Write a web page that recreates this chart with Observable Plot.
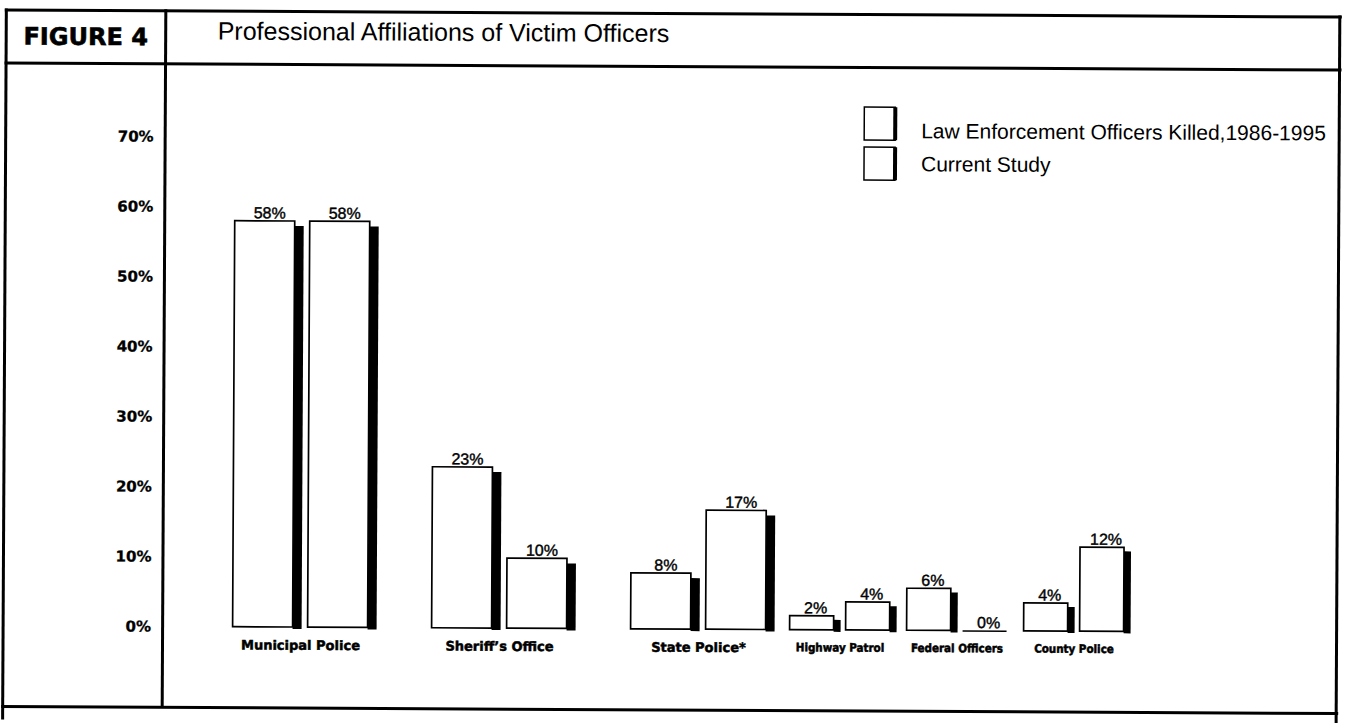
<!DOCTYPE html>
<html><head><meta charset="utf-8">
<script src="https://cdn.jsdelivr.net/npm/d3@7"></script>
<script src="https://cdn.jsdelivr.net/npm/@observablehq/plot@0.6"></script>
<style>
html,body{margin:0;padding:0;background:#fff;}
#page{position:relative;width:1345px;height:723px;overflow:hidden;background:#fff;}
#sheet{position:absolute;left:0;top:0;width:1345px;height:723px;transform:rotate(0.3deg);transform-origin:672px 361px;}
#left,#right{position:absolute;top:0;}
#left{left:0;} #right{left:780px;}
#left svg,#right svg{background:transparent;overflow:visible;max-width:none;}
svg [aria-label^="y-axis"] text{font-family:"DejaVu Sans",sans-serif;font-weight:bold;font-size:15px;fill:#000;stroke:#000;stroke-width:0.3px;}
svg [aria-label^="x-axis"] text{font-family:"DejaVu Sans",sans-serif;font-weight:bold;font-size:13px;fill:#000;stroke:#000;stroke-width:0.5px;}
#right svg [aria-label^="x-axis"] text{font-family:"DejaVu Sans Condensed","DejaVu Sans",sans-serif;font-stretch:condensed;font-size:11.5px;}
#deco{position:absolute;left:0;top:0;pointer-events:none;}
</style>
</head><body>
<div id="page"><div id="sheet">
  <div id="left"></div>
  <div id="right"></div>
  <svg id="deco" width="1345" height="723"></svg>
</div></div>
<script>
// ---- data ----
const categories = ["Municipal Police", "Sheriff’s Office", "State Police*", "Highway Patrol", "Federal Officers", "County Police"];
const seriesNames = ["Law Enforcement Officers Killed,1986-1995", "Current Study"];
const leokaValues = [58, 23, 8, 2, 6, 4];
const currentStudyValues = [58, 10, 17, 4, 0, 12];
const yTickValues = [0, 10, 20, 30, 40, 50, 60, 70];
const figureLabel = "FIGURE 4";
const titleText = "Professional Affiliations of Victim Officers";

const rows = categories.flatMap((c, i) => [
  {category: c, series: seriesNames[0], s: 0, value: leokaValues[i]},
  {category: c, series: seriesNames[1], s: 1, value: currentStudyValues[i]}
]);

function panel({cats, width, range, padInner, bw, barW, shW, shTop, showY}) {
  const data = rows.filter(d => cats.includes(d.category));
  const pos = [{insetLeft: 0, insetRight: bw - barW}, {insetLeft: bw - barW, insetRight: 0}];
  const shadow = [{insetLeft: barW, insetRight: bw - barW - shW}, {insetLeft: bw, insetRight: -shW}];
  const labelDx = [barW / 2 + shW / 2 - bw / 2, bw - barW / 2 + shW / 2 - bw / 2];
  const marks = [];
  [0, 1].forEach(k => {
    const sd = data.filter(d => d.s === k);
    marks.push(Plot.barY(sd.filter(d => d.value > 0), {x: "category", y1: 0, y2: "value", fill: "#000", insetTop: shTop, insetBottom: -2, ...shadow[k]}));
    marks.push(Plot.barY(sd.filter(d => d.value > 0), {x: "category", y1: 0, y2: "value", fill: "#fff", stroke: "#000", strokeWidth: 1.7, ...pos[k]}));
    marks.push(Plot.tickY(sd.filter(d => d.value === 0), {x: "category", y: "value", stroke: "#000", strokeWidth: 1.5, ...pos[k]}));
    marks.push(Plot.text(sd, {x: "category", y: "value", text: d => d.value + "%", dx: labelDx[k], dy: -3, lineAnchor: "bottom", fontSize: 16, fontFamily: "Liberation Sans, Arial, sans-serif", fill: "#000", stroke: "#000", strokeWidth: 0.4}));
  });
  return Plot.plot({
    width, height: 723,
    marginLeft: range[0], marginRight: width - range[1], marginTop: 139, marginBottom: 94,
    style: {background: "transparent", overflow: "visible"},
    x: {domain: cats, range, paddingInner: padInner, paddingOuter: 0, label: null, tickSize: 0, tickPadding: 13},
    y: {type: "linear", domain: [0, 70], range: [629, 139], ticks: yTickValues, tickFormat: d => d + "%", tickSize: 0, tickPadding: 82, label: null, axis: showY ? "left" : null},
    marks
  });
}

document.getElementById("left").append(panel({
  cats: categories.slice(0, 3), width: 780, range: [234, 767], padInner: 64 / 199,
  bw: 135, barW: 60, shW: 9, shTop: 5, showY: true
}));
document.getElementById("right").append(panel({
  cats: categories.slice(3), width: 565, range: [10, 345], padInner: 17.5 / 117.5,
  bw: 100, barW: 44, shW: 7, shTop: 4, showY: false
}));

// ---- frame, header and legend ----
const deco = d3.select("#deco");
const lines = [
  [3, 12, 1337, 3], [3, 65, 1337, 3], [3, 708.5, 1337, 3],
  [3, 12, 3, 720], [1336.5, 12, 3, 720], [162.5, 12, 3, 698]
];
deco.selectAll("rect.ln").data(lines).join("rect").attr("class", "ln")
  .attr("x", d => d[0]).attr("y", d => d[1]).attr("width", d => d[2]).attr("height", d => d[3]).attr("fill", "#000");
deco.append("text").attr("x", 84).attr("y", 48).attr("text-anchor", "middle")
  .attr("font-family", "DejaVu Sans").attr("font-weight", "bold").attr("font-size", 24)
  .attr("stroke", "#000").attr("stroke-width", 0.6).text(figureLabel);
deco.append("text").attr("x", 216).attr("y", 42)
  .attr("font-family", "Liberation Sans, Arial").attr("font-size", 25).text(titleText);
const lg = deco.selectAll("g.lg").data(seriesNames).join("g").attr("class", "lg")
  .attr("transform", (d, i) => `translate(863,${106 + i * 40})`);
lg.append("rect").attr("x", 0).attr("y", 0).attr("width", 31).attr("height", 33)
  .attr("fill", "#fff").attr("stroke", "#000").attr("stroke-width", 1.5);
lg.append("rect").attr("x", 29).attr("y", 0).attr("width", 4).attr("height", 33).attr("fill", "#000");
lg.append("text").attr("x", 57).attr("y", (d, i) => 31 - i * 7)
  .attr("font-family", "Liberation Sans, Arial").attr("font-size", 21).text(d => d);
</script>
</body></html>
